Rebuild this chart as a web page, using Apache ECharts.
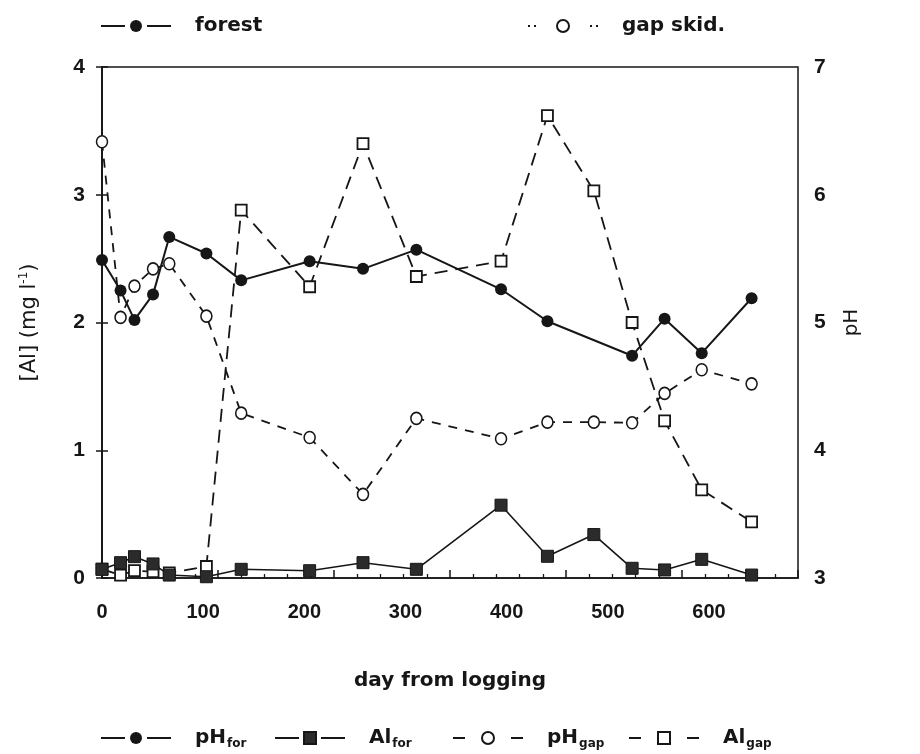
<!DOCTYPE html>
<html>
<head>
<meta charset="utf-8">
<script src="https://cdn.jsdelivr.net/npm/echarts@6.0.0/dist/echarts.min.js"></script>
<style>
html,body{margin:0;padding:0;background:#fff;}
#c{width:920px;height:754px;}
</style>
</head>
<body>
<div id="c"></div>
<script>
// ---- data ----
const daysFor = [0, 16, 28, 44, 58, 90, 120, 179, 225, 271, 344, 384, 457, 485, 517, 560];
const phFor   = [5.49, 5.25, 5.02, 5.22, 5.67, 5.54, 5.33, 5.48, 5.42, 5.57, 5.26, 5.01, 4.74, 5.03, 4.76, 5.19];

const daysAll = [0, 16, 28, 44, 58, 90, 120, 179, 225, 271, 344, 384, 424, 457, 485, 517, 560];
const alFor   = [0.068, 0.12, 0.167, 0.11, 0.023, 0.01, 0.068, 0.057, 0.12, 0.068, 0.57, 0.17, 0.34, 0.076, 0.063, 0.146, 0.023];
const phGap   = [6.415, 5.04, 5.285, 5.42, 5.46, 5.05, 4.29, 4.10, 3.655, 4.25, 4.09, 4.22, 4.22, 4.215, 4.445, 4.63, 4.52];
const alGap   = [0.07, 0.023, 0.057, 0.05, 0.04, 0.09, 2.88, 2.28, 3.40, 2.36, 2.48, 3.62, 3.03, 2.0, 1.23, 0.69, 0.44];

const xTicks = [0, 100, 200, 300, 400, 500, 600];
const alTicks = [0, 1, 2, 3, 4];
const phTicks = [3, 4, 5, 6, 7];

const legendTop = ['forest', 'gap skid.'];
const legendBottom = ['pH_for', 'Al_for', 'pH_gap', 'Al_gap'];
const legendParts = {
  'forest': ['forest', ''], 'gap skid.': ['gap skid.', ''],
  'pH_for': ['pH', 'for'], 'Al_for': ['Al', 'for'],
  'pH_gap': ['pH', 'gap'], 'Al_gap': ['Al', 'gap']
};

// ---- chart ----
const INK = '#161616';
const FONT = 'Liberation Sans';
const TFONT = 'DejaVu Sans';
const pairs = (xs, ys) => xs.map((x, i) => [x, ys[i]]);

const chart = echarts.init(document.getElementById('c'), null, {renderer: 'canvas'});

const legendRich = {
  m: {fontSize: 20, fontWeight: 'bold', color: INK, fontFamily: TFONT, padding: [0, 0, 0, 19], lineHeight: 24},
  s: {fontSize: 12, fontWeight: 'bold', color: INK, fontFamily: TFONT, lineHeight: 12, verticalAlign: 'bottom', padding: [0, 0, 0, 1]}
};
const legendFmt = name => {
  const p = legendParts[name];
  return p[1] ? '{m|' + p[0] + '}{s|' + p[1] + '}' : '{m|' + p[0] + '}';
};
const SOLID = [24, 22], DASH = [12, 46], DOTS = [2, 4, 2, 54];
const mkLegend = (name, left, top, dash) => ({
  show: true, orient: 'horizontal', left: left, top: top,
  selectedMode: false, itemWidth: 70, itemHeight: 15, padding: 0,
  data: [{name: name, lineStyle: {type: dash, width: 2, color: INK}}],
  formatter: legendFmt,
  textStyle: {rich: legendRich, color: INK}
});

const option = {
  backgroundColor: '#ffffff',
  animation: false,
  grid: {left: 102, right: 122, top: 67, bottom: 176, show: true,
         borderColor: INK, borderWidth: 1.5, backgroundColor: 'transparent'},
  legend: [
    mkLegend(legendTop[0], 100, 16, SOLID),
    mkLegend(legendTop[1], 527, 16, DOTS),
    mkLegend(legendBottom[0], 100, 728, SOLID),
    mkLegend(legendBottom[1], 274, 728, SOLID),
    mkLegend(legendBottom[2], 452, 728, DASH),
    mkLegend(legendBottom[3], 628, 728, DASH)
  ],
  xAxis: [
    { // data axis (true tick spacing of the plot frame)
      type: 'value', min: xTicks[0], max: xTicks[xTicks.length - 1], interval: 100, position: 'bottom',
      axisLine: {show: true, lineStyle: {color: INK, width: 1.5}},
      axisTick: {show: true, inside: true, length: 8, lineStyle: {color: INK, width: 1.5}},
      minorTick: {show: true, splitNumber: 5, length: 4, lineStyle: {color: INK, width: 1.3}},
      axisLabel: {show: false}, splitLine: {show: false}
    },
    { // label row as typeset in the reference
      type: 'value', min: 0, max: 688, interval: 100, position: 'bottom',
      axisLine: {show: false}, axisTick: {show: false}, splitLine: {show: false},
      axisLabel: {show: true, margin: 24, fontSize: 20, fontWeight: 'bold', color: INK, fontFamily: FONT,
                  formatter: v => (xTicks.indexOf(v) >= 0 ? String(v) : '')},
      name: 'day from logging', nameLocation: 'middle', nameGap: 93,
      nameTextStyle: {fontSize: 20, fontWeight: 'bold', color: INK, fontFamily: TFONT}
    }
  ],
  yAxis: [
    {
      type: 'value', min: alTicks[0], max: alTicks[alTicks.length - 1], interval: 1, position: 'left',
      axisLine: {show: true, lineStyle: {color: INK, width: 1.5}},
      axisTick: {show: true, inside: true, length: 6, lineStyle: {color: INK, width: 1.5}},
      axisLabel: {margin: 17, fontSize: 21, fontWeight: 'bold', color: INK, fontFamily: FONT},
      splitLine: {show: false},
      name: '[Al] (mg l{sup|-1})', nameLocation: 'middle', nameGap: 60, nameRotate: 90,
      nameTextStyle: {fontSize: 21, color: INK, fontFamily: TFONT, lineHeight: 24,
        rich: {sup: {fontSize: 12, color: INK, fontFamily: TFONT, lineHeight: 12, verticalAlign: 'top'}}}
    },
    {
      type: 'value', min: phTicks[0], max: phTicks[phTicks.length - 1], interval: 1, position: 'right',
      axisLine: {show: true, lineStyle: {color: INK, width: 1.5}},
      axisTick: {show: true, inside: true, length: 6, lineStyle: {color: INK, width: 1.5}},
      axisLabel: {margin: 16, fontSize: 21, fontWeight: 'bold', color: INK, fontFamily: FONT},
      splitLine: {show: false},
      name: 'pH', nameLocation: 'middle', nameGap: 44, nameRotate: 90,
      nameTextStyle: {fontSize: 20, color: INK, fontFamily: TFONT}
    }
  ],
  series: [
    {name: 'forest', type: 'line', data: [], symbol: 'circle', symbolSize: 12,
     itemStyle: {color: INK}, lineStyle: {color: INK, width: 2}},
    {name: 'gap skid.', type: 'line', data: [], symbol: 'circle', symbolSize: 12,
     itemStyle: {color: '#fff', borderColor: INK, borderWidth: 1.6}, lineStyle: {color: INK, width: 2, type: 'dotted'}},
    {name: 'Al_gap', type: 'line', xAxisIndex: 0, yAxisIndex: 0, data: pairs(daysAll, alGap),
     symbol: 'rect', symbolSize: 11, showAllSymbol: true, clip: false, z: 2,
     itemStyle: {color: '#fff', borderColor: INK, borderWidth: 1.8},
     lineStyle: {color: INK, width: 1.8, type: [13, 8]}},
    {name: 'pH_gap', type: 'line', xAxisIndex: 0, yAxisIndex: 1, data: pairs(daysAll, phGap),
     symbol: 'circle', symbolSize: [11, 12], showAllSymbol: true, clip: false, z: 3,
     itemStyle: {color: '#fff', borderColor: INK, borderWidth: 1.6},
     lineStyle: {color: INK, width: 1.8, type: [9, 8]}},
    {name: 'Al_for', type: 'line', xAxisIndex: 0, yAxisIndex: 0, data: pairs(daysAll, alFor),
     symbol: 'rect', symbolSize: 12, showAllSymbol: true, clip: false, z: 4,
     itemStyle: {color: '#2b2b2b', borderColor: INK, borderWidth: 1},
     lineStyle: {color: INK, width: 1.6}},
    {name: 'pH_for', type: 'line', xAxisIndex: 0, yAxisIndex: 1, data: pairs(daysFor, phFor),
     symbol: 'circle', symbolSize: 12, showAllSymbol: true, clip: false, z: 5,
     itemStyle: {color: INK}, lineStyle: {color: INK, width: 2}}
  ]
};
chart.setOption(option);
</script>
</body>
</html>
